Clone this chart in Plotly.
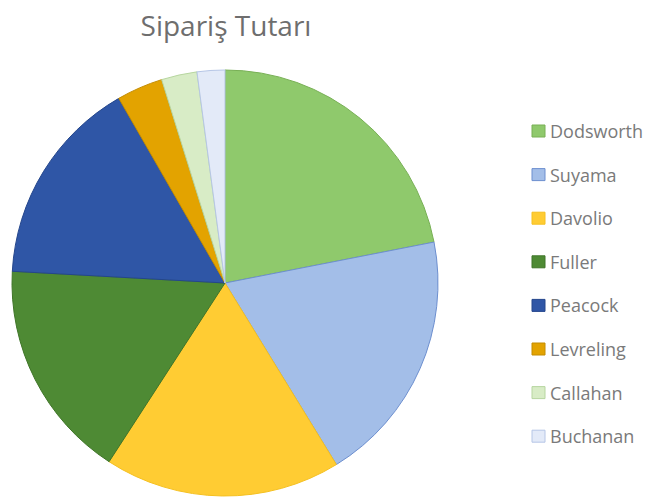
import plotly.graph_objects as go

labels = ["Dodsworth", "Suyama", "Davolio", "Fuller", "Peacock", "Levreling", "Callahan", "Buchanan"]
values = [21.9, 19.3, 17.9, 16.7, 15.8, 3.5, 2.7, 2.1]
colors = ["#8fc96c", "#a3bee8", "#ffcc33", "#4e8a34", "#2f56a6", "#e3a300", "#d8ecc6", "#e3eaf8"]
edges = ["#78b055", "#6d8fcf", "#f5c020", "#3f7528", "#24468c", "#c48c00", "#b7d6a0", "#b6c6e6"]

W, H = 654, 501
cx, cy, r = 225, 283, 213

def px(x):
    return x / W

def py(y):
    return 1 - y / H

fig = go.Figure()
fig.add_trace(go.Pie(
    labels=labels, values=values, sort=False, direction="clockwise", rotation=0,
    marker=dict(colors=colors, line=dict(color=edges, width=1)),
    textinfo="none", hoverinfo="label+value", showlegend=False,
    domain=dict(x=[px(cx - r), px(cx + r)], y=[py(cy + r), py(cy - r)]),
))

# manual legend (vertical spacing as in reference)
ly0, lstep = 131, 43.6
shapes, annotations = [], []
for i, (lab, col, ec) in enumerate(zip(labels, colors, edges)):
    yc = ly0 + i * lstep
    shapes.append(dict(type="rect", xref="paper", yref="paper",
                       x0=px(532), x1=px(545), y0=py(yc + 6), y1=py(yc - 6),
                       fillcolor=col, line=dict(color=ec, width=1)))
    annotations.append(dict(text=lab, xref="paper", yref="paper", x=px(548), y=py(yc),
                            xanchor="left", yanchor="middle", showarrow=False,
                            font=dict(family="Open Sans", size=18, color="#7a7a7a")))

fig.update_layout(
    width=W, height=H, margin=dict(l=0, r=0, t=0, b=0),
    paper_bgcolor="white", plot_bgcolor="white",
    title=dict(text="Sipariş Tutarı", x=px(226), xanchor="center", y=py(26), yanchor="middle",
               font=dict(family="Open Sans", size=28, color="#6e6e6e")),
    shapes=shapes, annotations=annotations,
)
fig.write_html("out.html", config={"displayModeBar": False},
               post_script="document.body.style.margin='0';")
